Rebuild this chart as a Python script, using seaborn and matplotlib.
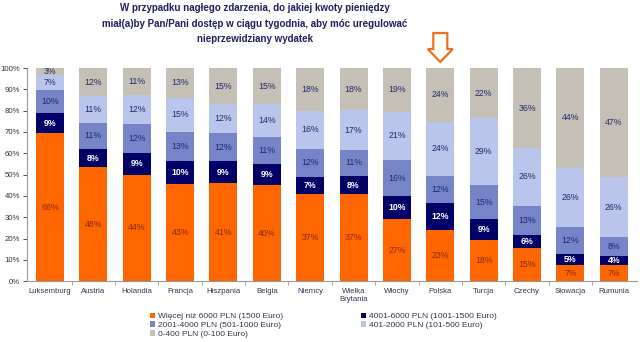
import matplotlib
matplotlib.use("Agg")
import matplotlib.pyplot as plt
import seaborn as sns
import numpy as np
import pandas as pd
from matplotlib.patches import Polygon, Patch
from matplotlib.ticker import FuncFormatter, FixedLocator

countries = ["Luksemburg", "Austria", "Holandia", "Francja", "Hiszpania", "Belgia",
             "Niemcy", "Wielka\nBrytania", "Włochy", "Polska", "Turcja", "Czechy",
             "Słowacja", "Rumunia"]
over_6000 = [66, 48, 44, 43, 41, 40, 37, 37, 27, 23, 18, 15, 7, 7]
r_4001_6000 = [9, 8, 9, 10, 9, 9, 7, 8, 10, 12, 9, 6, 5, 4]
r_2001_4000 = [10, 11, 12, 13, 12, 11, 12, 11, 16, 12, 15, 13, 12, 8]
r_401_2000 = [7, 11, 12, 15, 12, 14, 16, 17, 21, 24, 29, 26, 26, 26]
r_0_400 = [3, 12, 11, 13, 15, 15, 18, 18, 19, 24, 22, 36, 44, 47]

series_names = ["Więcej niż 6000 PLN (1500 Euro)", "4001-6000 PLN (1001-1500 Euro)",
                "2001-4000 PLN (501-1000 Euro)", "401-2000 PLN (101-500 Euro)",
                "0-400 PLN (0-100 Euro)"]
colors = ["#FF6600", "#000066", "#7585C8", "#B9C5EA", "#C5C0B5"]
label_colors = ["#8B2A10", "white", "#1F2A6B", "#1F2A6B", "#1F2A6B"]
label_weights = ["normal", "bold", "normal", "normal", "normal"]

title = ("W przypadku nagłego zdarzenia, do jakiej kwoty pieniędzy\n"
         "miał(a)by Pan/Pani dostęp w ciągu tygodnia, aby móc uregulować\n"
         "nieprzewidziany wydatek")

series = [over_6000, r_4001_6000, r_2001_4000, r_401_2000, r_0_400]
raw = np.array(series, dtype=float)
totals = raw.sum(axis=0)
norm = raw / totals * 100
cum = np.cumsum(norm, axis=0)

sns.set_theme(style="white")
plt.rcParams["font.family"] = ["Liberation Sans", "DejaVu Sans"]

fig = plt.figure(figsize=(6.4, 3.42), dpi=100)
ax = fig.add_axes([0.042, 0.178, 0.953, 0.623])

for i in range(len(series) - 1, -1, -1):
    df = pd.DataFrame({"country": countries, "value": cum[i]})
    sns.barplot(data=df, x="country", y="value", color=colors[i], width=0.645,
                saturation=1, ax=ax, linewidth=0, order=countries)

for i in range(len(series)):
    for j in range(len(countries)):
        bottom = cum[i][j] - norm[i][j]
        yc = bottom + norm[i][j] / 2
        ax.text(j, yc, f"{series[i][j]:d}%", ha="center", va="center",
                fontsize=6.3, color=label_colors[i], fontweight=label_weights[i])

ax.set_xlim(-0.53, len(countries) - 0.47)
ax.set_ylim(0, 100)
ax.set_xlabel("")
ax.set_ylabel("")
ax.yaxis.set_major_locator(FixedLocator(np.arange(0, 101, 10)))
ax.yaxis.set_major_formatter(FuncFormatter(lambda v, p: f"{int(v)}%"))
ax.tick_params(axis="y", labelsize=5.6, colors="#333333", length=3, width=0.6,
               left=True, pad=2)
ax.tick_params(axis="x", labelsize=5.6, colors="#333355", length=0, pad=5)
ax.set_xticks(np.arange(len(countries)))
ax.set_xticks(np.arange(len(countries) - 1) + 0.5, minor=True)
ax.tick_params(axis="x", which="minor", length=3, width=0.6, color="#999999",
               bottom=True)
for s in ["top", "right"]:
    ax.spines[s].set_visible(False)
for s in ["left", "bottom"]:
    ax.spines[s].set_color("#999999")
    ax.spines[s].set_linewidth(0.8)

fig.text(0.398, 0.99, title, ha="center", va="top", fontsize=7.0,
         fontweight="bold", color="#1F1F5F", linespacing=1.65,
         multialignment="center")

# Arrow above Polska
tr = ax.transData
cx = tr.transform((9, 0))[0]
H = 342
pts = [(cx - 7, H - 33), (cx + 7, H - 33), (cx + 7, H - 49), (cx + 12.5, H - 49),
       (cx, H - 62), (cx - 12.5, H - 49), (cx - 7, H - 49)]
arrow = Polygon(pts, closed=True, transform=None, facecolor="white",
                edgecolor="#F07020", linewidth=1.6, clip_on=False)
fig.patches.append(arrow)

handles = [Patch(facecolor=c, edgecolor="none") for c in colors]
order = [0, 2, 4, 1, 3]
fig.legend([handles[k] for k in order], [series_names[k] for k in order],
           loc="upper left", bbox_to_anchor=(0.228, 0.098), ncol=2, frameon=False,
           fontsize=6.0, handlelength=0.6, handleheight=0.6, handletextpad=0.3,
           columnspacing=9.4, labelspacing=0.15, borderpad=0, labelcolor="#333355")

fig.savefig("out.png", dpi=100)
